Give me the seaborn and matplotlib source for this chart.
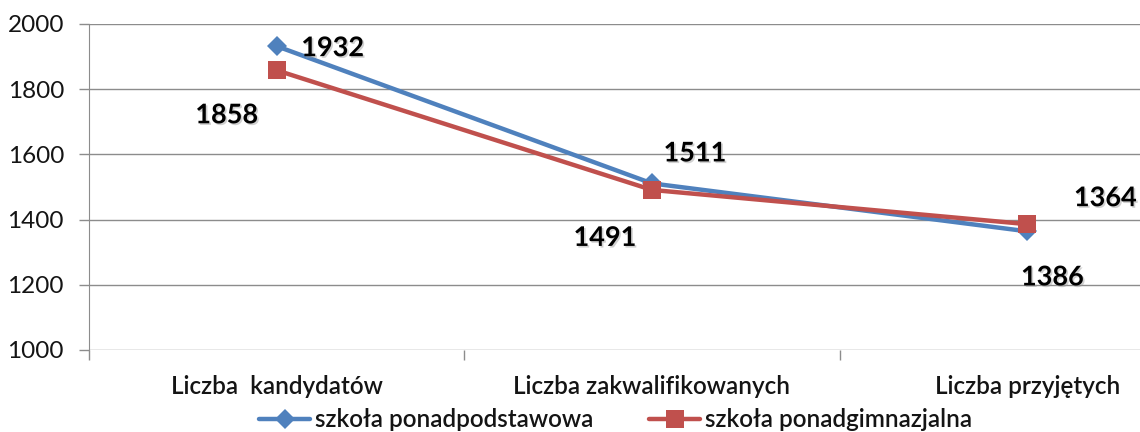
import matplotlib
matplotlib.use("Agg")
import matplotlib.pyplot as plt
import matplotlib.patheffects as pe
from matplotlib.ticker import FixedLocator
import pandas as pd
import seaborn as sns

# data
categories = ["Liczba  kandydatów", "Liczba zakwalifikowanych", "Liczba przyjętych"]
series_names = ["szkoła ponadpodstawowa", "szkoła ponadgimnazjalna"]
values_podst = [1932, 1511, 1364]
values_gimn = [1858, 1491, 1386]
# the chart prints the third-category labels swapped
label_texts_podst = ["1932", "1511", "1386"]
label_texts_gimn = ["1858", "1491", "1364"]

colors = ["#4F81BD", "#C0504D"]
marker_sizes = [10, 13]

sns.set_style("white")
plt.rcParams['font.family'] = ['Lato', 'DejaVu Sans']

d = {'category': [], 'value': [], 'series': []}
for name, vals in zip(series_names, [values_podst, values_gimn]):
	for c, v in zip(categories, vals):
		d['category'].append(c)
		d['value'].append(v)
		d['series'].append(name)
df = pd.DataFrame(data=d)

fig = plt.figure(figsize=(11.4, 4.32), dpi=100)
ax = fig.add_axes([89 / 1140, 1 - 350 / 432, 1126 / 1140, 326 / 432])

sns.lineplot(data=df, x="category", y="value", hue="series", style="series",
	palette=colors, markers={series_names[0]: "D", series_names[1]: "s"},
	dashes=False, linewidth=3.2, markersize=12, markeredgewidth=0, ax=ax, sort=False)

for line, ms in zip(ax.lines, marker_sizes):
	line.set_markersize(ms)

ax.set_xlim(-0.5, 2.5)
ax.set_ylim(1000, 2000)
ax.set_yticks(range(1000, 2001, 200))
ax.grid(axis='y', color='#8c8c8c', linewidth=1)
ax.set_axisbelow(True)
for s in ['top', 'right', 'bottom']:
	ax.spines[s].set_visible(False)
ax.spines['left'].set_color('#8c8c8c')

ax.set_xticks(range(len(categories)))
ax.set_xticklabels(categories, fontweight='semibold')
ax.xaxis.set_minor_locator(FixedLocator([-0.5, 0.5, 1.5, 2.5]))
ax.tick_params(axis='x', which='major', length=0, pad=18, labelsize=17.5, labelcolor='#141414')
ax.tick_params(axis='x', which='minor', length=7, width=1, color='#8c8c8c', direction='out', bottom=True)
ax.tick_params(axis='y', length=7, width=1, color='#8c8c8c', direction='out', left=True,
	pad=11, labelsize=17.5, labelcolor='#141414')
ax.set_xlabel('')
ax.set_ylabel('')

# value labels (pixel offsets from each point)
offsets_podst = [(56, -2), (43, 30), (25, -46)]
offsets_gimn = [(-50, -45), (-47, -48), (78, 26)]
shadow = [pe.withSimplePatchShadow(offset=(1.2, -1.2), shadow_rgbFace='#999999', alpha=0.45)]
for vals, texts, offs in [(values_podst, label_texts_podst, offsets_podst),
		(values_gimn, label_texts_gimn, offsets_gimn)]:
	for i, (v, t, o) in enumerate(zip(vals, texts, offs)):
		ax.annotate(t, xy=(i, v), xytext=o, textcoords='offset pixels',
			ha='center', va='center', fontsize=19.5, fontweight='bold', color='black',
			path_effects=shadow, annotation_clip=False)

h, l = ax.get_legend_handles_labels()
ax.legend_.remove()
for hd, ms in zip(h, marker_sizes):
	hd.set_markersize(ms)
leg = fig.legend(h, l, loc='center', bbox_to_anchor=(0.54, 0.028), ncol=2, frameon=False,
	prop={'size': 17.5, 'weight': 'semibold'}, handlelength=2.1, handletextpad=0.2,
	columnspacing=2.3)
for t in leg.get_texts():
	t.set_color('#141414')

plt.savefig('out.png', dpi=100)
